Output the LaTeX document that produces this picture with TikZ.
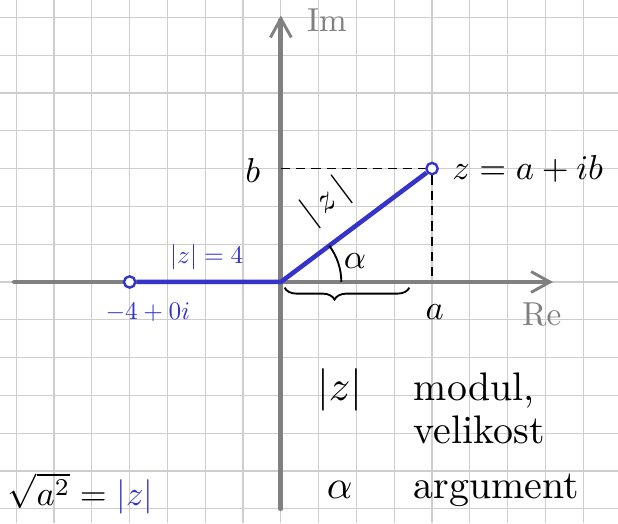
\documentclass[tikz,border=0pt]{standalone}
\usetikzlibrary{arrows.meta,decorations.pathreplacing}

\definecolor{zblue}{RGB}{52,52,204}
\definecolor{axisgray}{RGB}{128,128,128}
\definecolor{gridgray}{RGB}{206,206,206}

\begin{document}
\begin{tikzpicture}[
  gridline/.style={gridgray,line width=0.9pt},
  axis/.style={axisgray,line width=3.6pt,line cap=round,
    -{Straight Barb[length=5mm,width=5.5mm,line width=2.2pt]}},
  proj/.style={black,line width=1.2pt,dash pattern=on 7pt off 4.5pt},
  zline/.style={zblue,line width=3.4pt,line join=round},
  dot/.style={circle,draw=zblue,fill=white,line width=1.8pt,minimum size=3mm,inner sep=0pt},
  lbl/.style={scale=2.6},
  word/.style={scale=3.0,anchor=west},
  small/.style={scale=1.9,zblue},
  axlbl/.style={scale=2.5,axisgray},
]

% frame and grid
\useasboundingbox (-7.43,-6.38) rectangle (8.92,7.46);
\fill[white] (-7.43,-6.38) rectangle (8.92,7.46);
\draw[gridline] (-7.43,-6.38) grid (8.92,7.46);

% axes
\coordinate (xs) at (-7.05,0);
\coordinate (xe) at (7.2,0);
\coordinate (ys) at (0,-6);
\coordinate (ye) at (0,7.05);
\draw[axis] (xs) -- (xe);
\draw[axis] (ys) -- (ye);
\node[axlbl] (re) at (6.9,-0.87) {Re};
\node[axlbl] (im) at (1.22,6.93) {Im};

% points
\coordinate (O) at (0,0);
\coordinate (zb) at (0,3);
\coordinate (za) at (4,0);
\node[dot] (z) at (4,3) {};
\node[dot] (w) at (-4,0) {};

% projections
\draw[proj] (zb) -- (z);
\draw[proj] (z) -- (za);

% modulus
\draw[zline] (w) -- (O) -- (z);

% angle and brace
\draw[line width=1.4pt] (1.6,0) arc (0:36.87:1.6);
\draw[line width=1.4pt,decorate,decoration={brace,mirror,amplitude=9pt,aspect=0.4}]
  (0.1,-0.15) -- (3.4,-0.15);

% labels
\node[lbl] (blbl) at (-0.74,2.96) {$b$};
\node[lbl] (alblx) at (4.07,-0.8) {$a$};
\node[lbl] (zlbl) at (6.53,3.0) {$z=a+ib$};
\node[scale=2.7,rotate=36.87] (zmod) at (1.2,2.12) {$|\,z\,|$};
\node[lbl] (alpha) at (1.96,0.55) {$\alpha$};
\node[small] (wlbl) at (-3.52,-0.79) {$-4+0i$};
\node[small] (wmod) at (-1.96,0.66) {$|z|=4$};

% legend
\node[lbl] (sq) at (-5.3,-5.6) {$\sqrt{a^2}=\textcolor{zblue}{|z|}$};
\node[scale=3.2] (l1) at (1.56,-2.86) {$|z|$};
\node[word] (t1) at (3.15,-2.86) {modul,};
\node[word] (t2) at (3.15,-3.92) {velikost};
\node[scale=3.0] (l2) at (1.56,-5.5) {$\alpha$};
\node[word] (t3) at (3.15,-5.5) {argument};

\end{tikzpicture}
\end{document}
